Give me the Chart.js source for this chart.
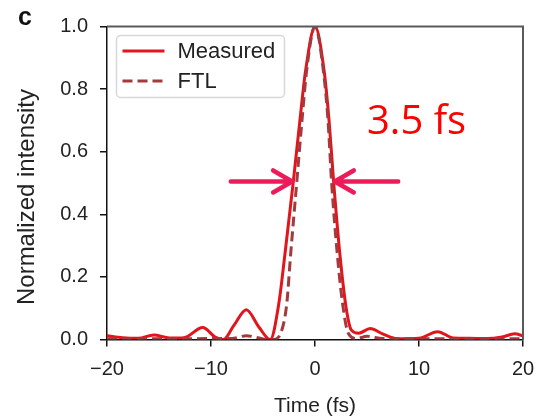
<!DOCTYPE html>
<html>
<head>
<meta charset="utf-8">
<script src="https://cdn.jsdelivr.net/npm/chart.js@4.4.0/dist/chart.umd.min.js"></script>
<style>
html, body { margin: 0; padding: 0; background: #fff; }
</style>
</head>
<body>
<canvas id="chart" width="536" height="420"></canvas>
<script>
// values (time in fs, normalized intensity)
var measuredTime  = [-20, -18.5, -17, -15.5, -14, -12.6, -10.8, -9.6, -8.8, -7.8, -6.6, -5.4, -4.3, -3.5, -2.9, -2.1, -1.45, -0.9, 0, 0.87, 1.35, 1.8, 2.4, 3.0, 3.5, 4.2, 5.3, 6.5, 8.0, 10.0, 11.8, 13.3, 14.8, 16.5, 18.0, 19.2, 20];
var measuredValue = [0.012, 0.006, 0.004, 0.014, 0.005, 0.006, 0.038, 0.008, 0.0, 0.045, 0.095, 0.04, 0.0, 0.11, 0.27, 0.5, 0.7, 0.86, 1.0, 0.86, 0.7, 0.5, 0.27, 0.1, 0.03, 0.02, 0.035, 0.018, 0.002, 0.004, 0.025, 0.005, 0.004, 0.003, 0.008, 0.018, 0.012];
var ftlTime  = [-20, -14, -10, -8, -6.6, -5, -4, -3.3, -2.72, -2.34, -1.76, -1.25, -0.8, 0, 0.8, 1.25, 1.6, 2.15, 2.67, 3.2, 4, 5, 6.5, 10, 14, 20];
var ftlValue = [0.002, 0.002, 0.003, 0.003, 0.012, 0.002, 0.0, 0.02, 0.113, 0.273, 0.5, 0.7, 0.86, 1.0, 0.86, 0.7, 0.5, 0.27, 0.11, 0.02, 0.003, 0.01, 0.003, 0.002, 0.002, 0.002];

var seriesNames = ["Measured", "FTL"];
var xTicks = [-20, -10, 0, 10, 20];
var yTicks = [0, 0.2, 0.4, 0.6, 0.8, 1.0];

// FWHM annotation, in data units: [tail, tip] of each arrow
var fwhmLeftArrow  = [-8.1, -2.2];
var fwhmRightArrow = [8.0, 1.9];
var fwhmLevel = 0.505;
var fwhmText = "3.5 fs";
var fwhmTextPos = [5.0, 0.655];

var redLine = "#e2141c";
var ftlLine = "#a33a3e";
var arrowColor = "#ee1b5a";
var sans = "'Liberation Sans', Arial, sans-serif";

function toPoints(xs, ys) {
	var pts = [];
	for (var i = 0; i < xs.length; i++) {
		pts.push({x: xs[i], y: ys[i]});
	}
	return pts;
}

function minusSign(v) {
	return v < 0 ? "\u2212" + Math.abs(v) : String(v);
}

var extras = {
	id: "extras",
	afterDraw: function(chart) {
		var c = chart.ctx;
		var a = chart.chartArea;
		var xs = chart.scales.x, ys = chart.scales.y;
		c.save();

		// top and right frame
		c.strokeStyle = "#5a5a5a";
		c.lineWidth = 2;
		c.beginPath();
		c.moveTo(a.left, a.top);
		c.lineTo(a.right, a.top);
		c.lineTo(a.right, a.bottom);
		c.stroke();

		// legend box
		var bx = 116.5, by = 35.5, bw = 168, bh = 62;
		c.fillStyle = "#fff";
		c.strokeStyle = "#d8d8d8";
		c.lineWidth = 1.5;
		c.beginPath();
		c.roundRect(bx, by, bw, bh, 4);
		c.fill();
		c.stroke();
		var ds = chart.data.datasets;
		for (var i = 0; i < ds.length; i++) {
			var ry = by + 15.5 + i * 30;
			c.strokeStyle = ds[i].borderColor;
			c.lineWidth = 3;
			c.setLineDash(ds[i].borderDash || []);
			c.beginPath();
			c.moveTo(bx + 6, ry);
			c.lineTo(bx + 48, ry);
			c.stroke();
			c.setLineDash([]);
			c.fillStyle = "#222";
			c.font = "22px " + sans;
			c.textBaseline = "middle";
			c.textAlign = "left";
			c.fillText(ds[i].label, bx + 61, ry + 1);
		}

		// FWHM arrows
		var yy = ys.getPixelForValue(fwhmLevel);
		c.strokeStyle = arrowColor;
		c.lineWidth = 4.5;
		c.lineCap = "round";
		c.lineJoin = "round";
		[fwhmLeftArrow, fwhmRightArrow].forEach(function(arr) {
			var x0 = xs.getPixelForValue(arr[0]);
			var x1 = xs.getPixelForValue(arr[1]);
			var dir = x1 > x0 ? 1 : -1;
			c.beginPath();
			c.moveTo(x0, yy);
			c.lineTo(x1, yy);
			c.moveTo(x1 - dir * 19, yy - 11);
			c.lineTo(x1, yy);
			c.lineTo(x1 - dir * 19, yy + 11);
			c.stroke();
		});

		c.fillStyle = "#ff0000";
		c.font = "40px 'Open Sans', sans-serif";
		c.textAlign = "left";
		c.textBaseline = "alphabetic";
		c.fillText(fwhmText, xs.getPixelForValue(fwhmTextPos[0]), ys.getPixelForValue(fwhmTextPos[1]));

		// y title, panel letter
		c.fillStyle = "#222";
		c.font = "24px " + sans;
		c.textAlign = "center";
		c.textBaseline = "middle";
		c.translate(27, 197);
		c.rotate(-Math.PI / 2);
		c.fillText("Normalized intensity", 0, 0);
		c.setTransform(1, 0, 0, 1, 0, 0);
		c.fillStyle = "#111";
		c.font = "bold 25px " + sans;
		c.textAlign = "left";
		c.textBaseline = "alphabetic";
		c.fillText("c", 18, 25);
		c.restore();
	}
};

var chart = new Chart(document.getElementById("chart"), {
	type: "line",
	data: {
		datasets: [{
			label: seriesNames[0],
			data: toPoints(measuredTime, measuredValue),
			borderColor: redLine,
			borderWidth: 3,
			pointRadius: 0,
			cubicInterpolationMode: "monotone",
			fill: false,
			order: 1
		}, {
			label: seriesNames[1],
			data: toPoints(ftlTime, ftlValue),
			borderColor: ftlLine,
			borderWidth: 3,
			borderDash: [10, 5],
			pointRadius: 0,
			cubicInterpolationMode: "monotone",
			fill: false,
			order: 0
		}]
	},
	options: {
		responsive: false,
		animation: false,
		devicePixelRatio: 1,
		layout: { padding: { left: 0, right: 13, top: 26.5, bottom: 0 } },
		plugins: { legend: { display: false }, tooltip: { enabled: false } },
		scales: {
			x: {
				type: "linear",
				min: -20,
				max: 20,
				afterBuildTicks: function(scale) {
					scale.ticks = xTicks.map(function(v) { return {value: v}; });
				},
				afterFit: function(scale) {
					scale.height = 80.5;
					scale.paddingLeft = 0;
					scale.paddingRight = 0;
				},
				ticks: {
					callback: function(v) { return minusSign(v); },
					color: "#222",
					font: { size: 20, family: sans },
					padding: 11,
					maxRotation: 0
				},
				grid: { drawOnChartArea: false, drawTicks: true, tickLength: 7, color: "#111", lineWidth: 1.5 },
				border: { color: "#111", width: 1.5 },
				title: {
					display: true,
					text: "Time (fs)",
					color: "#222",
					font: { size: 21, family: sans },
					padding: { top: 0, bottom: 1 }
				}
			},
			y: {
				min: 0,
				max: 1,
				afterBuildTicks: function(scale) {
					scale.ticks = yTicks.map(function(v) { return {value: v}; });
				},
				afterFit: function(scale) { scale.width = 107; },
				ticks: {
					callback: function(v) { return v.toFixed(1); },
					color: "#222",
					font: { size: 20, family: sans },
					padding: 12
				},
				grid: { drawOnChartArea: false, drawTicks: true, tickLength: 7, color: "#111", lineWidth: 1.5 },
				border: { color: "#111", width: 1.5 }
			}
		}
	},
	plugins: [extras]
});
</script>
</body>
</html>
